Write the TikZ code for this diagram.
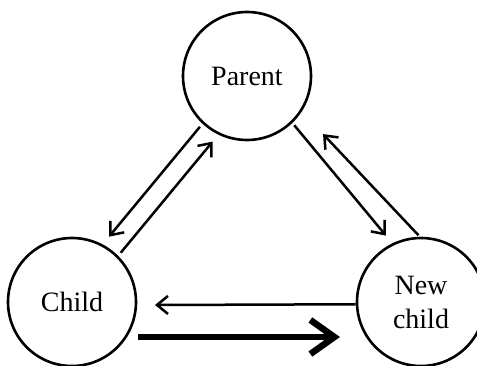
\documentclass[tikz,border=0pt]{standalone}
\usepackage{fontspec}
\setmainfont{Liberation Serif}
\usetikzlibrary{positioning, arrows.meta}

\begin{document}
\begin{tikzpicture}[x=1pt, y=1pt,
		state/.style = {draw, circle, line width=2.6pt, minimum size=128pt, inner sep=0pt, align=center, font=\fontsize{28}{34}\selectfont},
		link/.style = {-{Straight Barb[length=11pt, width=18pt]}, line width=2.5pt},
		boldlink/.style = {-{Straight Barb[length=24pt, width=34pt]}, line width=6.5pt}]
		\useasboundingbox (0,0) rectangle (477,365);
		\clip (0,0) rectangle (477,365);

		\node[state] (parent) at (247,289) {Parent};
		\node[state] (child) at (72,63) {Child};
		\node[state] (newchild) at (421,63) {New\\child};

		\draw[link, shorten <=4pt, shorten >=10pt] (parent.227) -- (child.62);
		\draw[link, shorten <=4pt, shorten >=9pt] (child.45) -- (parent.244);

		\draw[link, shorten <=3pt, shorten >=10pt] (parent.314) -- (newchild.116);
		\draw[link, shorten <=2pt, shorten >=31pt] (newchild.91) -- (parent.327);

		\draw[link] (newchild.182) -- ([shift={(83pt,-3pt)}]child.center);
		\draw[boldlink] ([shift={(66pt,-35pt)}]child.center) -- ([shift={(-81pt,-35pt)}]newchild.center);

	\end{tikzpicture}
\end{document}
